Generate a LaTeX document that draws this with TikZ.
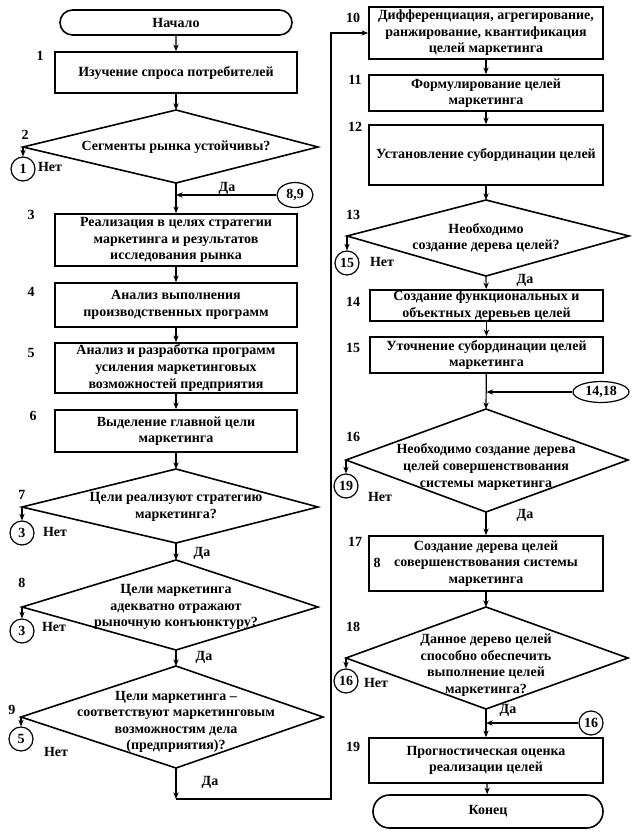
\documentclass[tikz,border=0pt]{standalone}
\usepackage{fontspec}
\setmainfont{Liberation Serif}
\usetikzlibrary{shapes.misc,shapes.geometric,arrows.meta}
\newcommand\fsz{\fontsize{10.5}{12.4}\selectfont\bfseries}
\newcommand\mkbox[6]{\node[box, minimum width={(#4-#2)*0.75pt}, minimum height={(#5-#3)*0.75pt}] (#1) at ({(#2+#4)/2},{(#3+#5)/2}) {#6};}
\newcommand\mkdia[9]{%
  \coordinate (#1t) at (#2,#3); \coordinate (#1l) at (#4,#5);
  \coordinate (#1r) at (#6,#5); \coordinate (#1b) at (#2,#7);
  \draw[dline] (#1t) -- (#1r) -- (#1b) -- (#1l) -- cycle;
  \node[dtext] (#1) at (#2,#8) {#9};}
\tikzset{
  box/.style={draw, line width=1.3pt, align=center, inner sep=0pt, font=\fsz},
  term/.style={draw, rounded rectangle, line width=1.2pt, inner sep=0pt, font=\fsz},
  dline/.style={line width=1.2pt, line join=miter},
  dtext/.style={align=center, inner sep=0pt, font=\fsz},
  lbl/.style={inner sep=0pt, font=\fsz},
  conn/.style={line width=0.9pt, -{Stealth[length=5pt,width=4pt]}},
  cnct/.style={draw, circle, line width=0.9pt, inner sep=0pt, minimum size=18pt, font=\fsz},
  ecnct/.style={draw, ellipse, line width=0.9pt, inner sep=0pt, font=\fsz},
}
\begin{document}
\begin{tikzpicture}[x=0.75pt,y=-0.75pt]
\useasboundingbox (0,0) rectangle (640,839);
% ---------- left column ----------
\node[term, minimum width={232*0.75pt}, minimum height={25*0.75pt}] (start) at (176,22.5) {Начало};
\mkbox{b1}{55}{52}{297}{93}{Изучение спроса потребителей}
\mkdia{d2}{176}{110}{23}{147}{318}{183}{147}{Сегменты рынка устойчивы?}
\node[cnct] (c1) at (23,169) {1};
\node[ecnct, minimum width={36*0.75pt}, minimum height={25*0.75pt}] (c89) at (295,195) {8,9};
\mkbox{b3}{55}{214}{297}{266}{Реализация в целях стратегии\\маркетинга и результатов\\исследования рынка}
\mkbox{b4}{55}{283}{297}{327}{Анализ выполнения\\производственных программ}
\mkbox{b5}{55}{343}{297}{393}{Анализ и разработка программ\\усиления маркетинговых\\возможностей предприятия}
\mkbox{b6}{55}{410}{297}{452}{Выделение главной цели\\маркетинга}
\mkdia{d7}{176}{469}{22}{507}{318}{543}{507}{Цели реализуют стратегию\\маркетинга?}
\node[cnct] (c3a) at (22,533) {3};
\mkdia{d8}{176}{560}{22}{607}{318}{650}{607}{Цели маркетинга\\адекватно отражают\\рыночную конъюнктуру?}
\node[cnct] (c3b) at (22,631) {3};
\mkdia{d9}{176}{666}{21}{717}{323}{768}{722}{Цели маркетинга –\\соответствуют маркетинговым\\возможностям дела\\(предприятия)?}
\node[cnct] (c5) at (21,739) {5};
% numbers left
\node[lbl] (n1) at (40,56) {1};
\node[lbl] (n2) at (25,135) {2};
\node[lbl] (n3) at (31,215) {3};
\node[lbl] (n4) at (31,292) {4};
\node[lbl] (n5) at (31,353) {5};
\node[lbl] (n6) at (33,416) {6};
\node[lbl] (n7) at (22,495) {7};
\node[lbl] (n8) at (22,583) {8};
\node[lbl] (n9) at (12,710) {9};
% yes/no left
\node[lbl] (no2) at (50,167) {Нет};
\node[lbl] (yes2) at (227,188) {Да};
\node[lbl] (no7) at (55,532) {Нет};
\node[lbl] (yes7) at (202,553) {Да};
\node[lbl] (no8) at (54,627) {Нет};
\node[lbl] (yes8) at (204,657) {Да};
\node[lbl] (no9) at (56,752) {Нет};
\node[lbl] (yes9) at (210,782) {Да};
% ---------- right column ----------
\mkbox{b10}{369}{7}{603}{59}{Дифференциация, агрегирование,\\ранжирование, квантификация\\целей маркетинга}
\mkbox{b11}{369}{75}{603}{111}{Формулирование целей\\маркетинга}
\mkbox{b12}{369}{125}{603}{185}{Установление субординации целей}
\mkdia{d13}{486}{200}{347}{236}{629}{276}{238}{Необходимо\\создание дерева целей?}
\node[cnct] (c15) at (347,263) {15};
\mkbox{b14}{370}{290}{603}{321}{Создание функциональных и\\объектных деревьев целей}
\mkbox{b15}{370}{337}{603}{373}{Уточнение субординации целей\\маркетинга}
\node[ecnct, minimum width={56*0.75pt}, minimum height={21*0.75pt}] (c1418) at (601,392) {14,18};
\mkdia{d16}{486}{409}{346}{460}{628}{512}{467}{Необходимо создание дерева\\целей совершенствования\\системы маркетинга}
\node[cnct] (c19) at (346,486) {19};
\mkbox{b17}{369}{536}{603}{591}{Создание дерева целей\\совершенствования системы\\маркетинга}
\node[lbl] (n8b) at (377,563) {8};
\mkdia{d18}{486}{607}{346}{658}{628}{709}{665}{Данное дерево целей\\способно обеспечить\\выполнение целей\\маркетинга?}
\node[cnct] (c16a) at (346,681) {16};
\node[cnct] (c16b) at (591,723) {16};
\mkbox{b19}{369}{738}{603}{783}{Прогностическая оценка\\реализации целей}
\node[term, minimum width={230*0.75pt}, minimum height={33*0.75pt}] (end) at (488,811.5) {Конец};
% numbers right
\node[lbl] (n10) at (353,18) {10};
\node[lbl] (n11) at (355,80) {11};
\node[lbl] (n12) at (355,127) {12};
\node[lbl] (n13) at (353,215) {13};
\node[lbl] (n14) at (353,302) {14};
\node[lbl] (n15) at (353,348) {15};
\node[lbl] (n16) at (353,437) {16};
\node[lbl] (n17) at (355,542) {17};
\node[lbl] (n18) at (353,627) {18};
\node[lbl] (n19) at (353,747) {19};
% yes/no right
\node[lbl] (no13) at (382,262) {Нет};
\node[lbl] (yes13) at (525,280) {Да};
\node[lbl] (no16) at (380,497) {Нет};
\node[lbl] (yes16) at (525,515) {Да};
\node[lbl] (no18) at (376,683) {Нет};
\node[lbl] (yes18) at (508,710) {Да};
% ---------- connectors ----------
\draw[conn] (start) -- (b1);
\draw[conn] (b1) -- (d2t);
\draw[conn] (d2l) -- (c1);
\draw[conn] (d2b) -- (b3);
\draw[conn] (c89) -- (c89 -| d2b);
\draw[conn] (b3) -- (b4);
\draw[conn] (b4) -- (b5);
\draw[conn] (b5) -- (b6);
\draw[conn] (b6) -- (d7t);
\draw[conn] (d7l) -- (c3a);
\draw[conn] (d7b) -- (d8t);
\draw[conn] (d8l) -- (c3b);
\draw[conn] (d8b) -- (d9t);
\draw[conn] (d9l) -- (c5);
\coordinate (lp1) at (176,799);
\coordinate (lp2) at (331,799);
\draw[conn] (d9b) -- (lp1);
\draw[conn] (lp1) -- (lp2) |- (b10.west);
\draw[conn] (b10) -- (b11);
\draw[conn] (b11) -- (b12);
\draw[conn] (b12) -- (d13t);
\draw[conn] (d13l) -- (c15);
\draw[conn] (d13b) -- (b14);
\draw[conn] (b14) -- (b15);
\draw[conn] (b15) -- (d16t);
\draw[conn] (c1418) -- (c1418 -| b15);
\draw[conn] (d16l) -- (c19);
\draw[conn] (d16b) -- (b17);
\draw[conn] (b17) -- (d18t);
\draw[conn] (d18l) -- (c16a);
\draw[conn] (d18b) -- (b19);
\draw[conn] (c16b) -- (c16b -| b19);
\draw[conn] (b19) -- (end);
\end{tikzpicture}
\end{document}
